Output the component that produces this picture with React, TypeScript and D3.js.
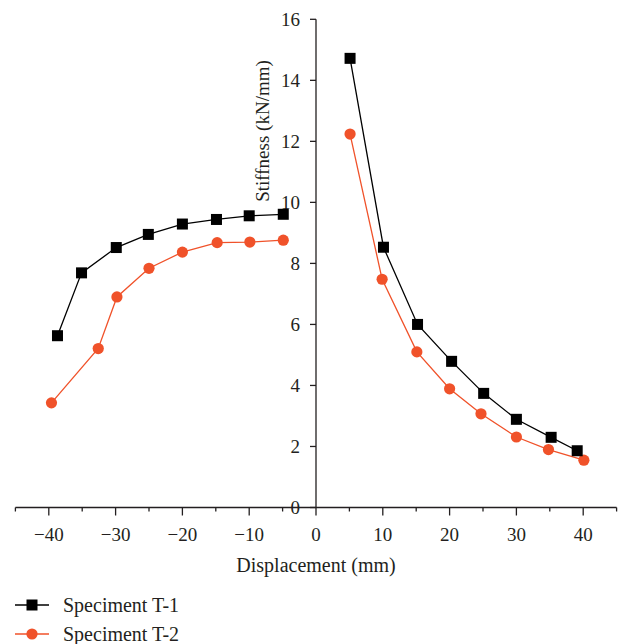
import { useEffect, useRef } from 'react';
import * as d3 from 'd3';

// displacement (mm) / stiffness (kN/mm)
const t1Disp = [-38.7, -35.1, -29.9, -25.1, -20.0, -14.9, -10.0, -4.9];
const t1Stiff = [5.63, 7.69, 8.52, 8.95, 9.29, 9.44, 9.56, 9.61];
const t1DispPos = [5.1, 10.1, 15.2, 20.3, 25.1, 30.0, 35.2, 39.1];
const t1StiffPos = [14.72, 8.53, 6.0, 4.79, 3.74, 2.89, 2.3, 1.86];

const t2Disp = [-39.6, -32.6, -29.8, -25.0, -20.0, -14.8, -9.9, -4.9];
const t2Stiff = [3.43, 5.21, 6.9, 7.84, 8.37, 8.68, 8.7, 8.76];
const t2DispPos = [5.1, 9.9, 15.1, 20.0, 24.7, 30.0, 34.8, 40.1];
const t2StiffPos = [12.24, 7.48, 5.1, 3.89, 3.07, 2.31, 1.9, 1.55];

const xTicks = [-40, -30, -20, -10, 0, 10, 20, 30, 40];
const xMinor = [-45, -35, -25, -15, -5, 5, 15, 25, 35, 45];
const yTicks = [0, 2, 4, 6, 8, 10, 12, 14, 16];

const seriesNames = ['Speciment T-1', 'Speciment T-2'];

const INK = '#231f20';
const RED = '#f0522a';
const FONT = '"Liberation Serif", "DejaVu Serif", serif';

export default function App() {
  const svgRef = useRef<SVGSVGElement | null>(null);

  useEffect(() => {
    const svg = d3.select(svgRef.current);
    svg.selectAll('*').remove();

    const x = d3.scaleLinear().domain([-45, 45]).range([15.4, 616.6]);
    const y = d3.scaleLinear().domain([0, 16]).range([507.5, 19.3]);

    const g = svg.append('g').attr('font-family', FONT).attr('fill', INK);

    // x axis
    const xAxis = g.append('g').attr('transform', `translate(0,${y(0)})`);
    xAxis.append('line')
      .attr('x1', x(-45)).attr('x2', x(45))
      .attr('stroke', INK).attr('stroke-width', 1.3);
    xAxis.selectAll('line.major').data(xTicks).join('line')
      .attr('class', 'major')
      .attr('x1', (d) => x(d)).attr('x2', (d) => x(d))
      .attr('y1', 0).attr('y2', 8)
      .attr('stroke', INK).attr('stroke-width', 1.3);
    xAxis.selectAll('line.minor').data(xMinor).join('line')
      .attr('class', 'minor')
      .attr('x1', (d) => x(d)).attr('x2', (d) => x(d))
      .attr('y1', 0).attr('y2', 4)
      .attr('stroke', INK).attr('stroke-width', 1.3);
    const fmt = d3.format('d');
    xAxis.selectAll('text').data(xTicks).join('text')
      .attr('x', (d) => x(d)).attr('y', 33)
      .attr('text-anchor', 'middle')
      .attr('font-size', 19)
      .text((d) => fmt(d));

    g.append('text')
      .attr('x', x(0)).attr('y', 572)
      .attr('text-anchor', 'middle')
      .attr('font-size', 20)
      .text('Displacement (mm)');

    // y axis
    const yAxis = g.append('g').attr('transform', `translate(${x(0)},0)`);
    yAxis.append('line')
      .attr('y1', y(16)).attr('y2', y(0))
      .attr('stroke', INK).attr('stroke-width', 1.3);
    yAxis.selectAll('line.tick').data(yTicks).join('line')
      .attr('class', 'tick')
      .attr('x1', -6).attr('x2', 0)
      .attr('y1', (d) => y(d)).attr('y2', (d) => y(d))
      .attr('stroke', INK).attr('stroke-width', 1.3);
    yAxis.selectAll('text').data(yTicks).join('text')
      .attr('x', -16).attr('y', (d) => y(d))
      .attr('dy', '0.33em')
      .attr('text-anchor', 'end')
      .attr('font-size', 19)
      .text((d) => d);

    g.append('text')
      .attr('transform', `translate(269,131) rotate(-90)`)
      .attr('text-anchor', 'middle')
      .attr('font-size', 19)
      .text('Stiffness (kN/mm)');

    // series
    const line = d3.line<[number, number]>()
      .x((d) => x(d[0]))
      .y((d) => y(d[1]));

    const t1Neg = d3.zip(t1Disp, t1Stiff) as [number, number][];
    const t1Pos = d3.zip(t1DispPos, t1StiffPos) as [number, number][];
    const t2Neg = d3.zip(t2Disp, t2Stiff) as [number, number][];
    const t2Pos = d3.zip(t2DispPos, t2StiffPos) as [number, number][];

    [t2Neg, t2Pos].forEach((pts) => {
      g.append('path').datum(pts)
        .attr('fill', 'none').attr('stroke', RED).attr('stroke-width', 1.3)
        .attr('d', line);
      g.append('g').selectAll('circle').data(pts).join('circle')
        .attr('cx', (d) => x(d[0])).attr('cy', (d) => y(d[1]))
        .attr('r', 5.6).attr('fill', RED);
    });

    [t1Neg, t1Pos].forEach((pts) => {
      g.append('path').datum(pts)
        .attr('fill', 'none').attr('stroke', '#000').attr('stroke-width', 1.3)
        .attr('d', line);
      g.append('g').selectAll('rect').data(pts).join('rect')
        .attr('x', (d) => x(d[0]) - 5.5).attr('y', (d) => y(d[1]) - 5.5)
        .attr('width', 11).attr('height', 11).attr('fill', '#000');
    });

    // legend
    const legend = g.append('g');
    seriesNames.forEach((name, i) => {
      const ly = 605 + i * 29;
      const col = i === 0 ? '#000' : RED;
      legend.append('line')
        .attr('x1', 15).attr('x2', 49).attr('y1', ly).attr('y2', ly)
        .attr('stroke', col).attr('stroke-width', 1.3);
      if (i === 0) {
        legend.append('rect')
          .attr('x', 32 - 5.5).attr('y', ly - 5.5)
          .attr('width', 11).attr('height', 11).attr('fill', col);
      } else {
        legend.append('circle')
          .attr('cx', 32).attr('cy', ly).attr('r', 5.6).attr('fill', col);
      }
      legend.append('text')
        .attr('x', 63).attr('y', ly).attr('dy', '0.33em')
        .attr('font-size', 20)
        .text(name);
    });
  }, []);

  return (
    <svg
      ref={svgRef}
      width={624}
      height={644}
      style={{ position: 'absolute', left: 0, top: 0, background: '#fff' }}
    />
  );
}
